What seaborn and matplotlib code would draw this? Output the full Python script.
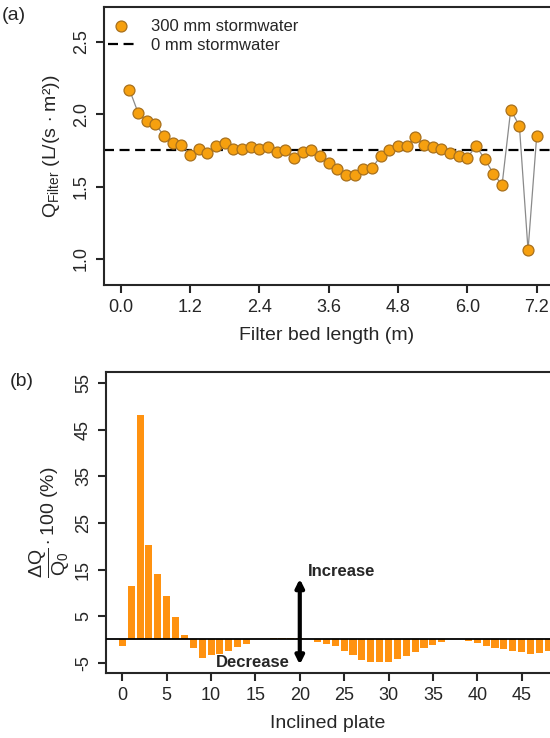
import matplotlib
matplotlib.use("Agg")
import matplotlib.pyplot as plt
import seaborn as sns
import pandas as pd

# ---------------- data ----------------
bed_length = [0.15, 0.30, 0.45, 0.60, 0.75, 0.90, 1.05, 1.20, 1.35, 1.50, 1.65, 1.80,
              1.95, 2.10, 2.25, 2.40, 2.55, 2.70, 2.85, 3.00, 3.15, 3.30, 3.45, 3.60,
              3.75, 3.90, 4.05, 4.20, 4.35, 4.50, 4.65, 4.80, 4.95, 5.10, 5.25, 5.40,
              5.55, 5.70, 5.85, 6.00, 6.15, 6.30, 6.45, 6.60, 6.75, 6.90, 7.05, 7.20]
q_300mm = [2.17, 2.01, 1.95, 1.93, 1.85, 1.80, 1.79, 1.72, 1.76, 1.73, 1.78, 1.80,
           1.76, 1.76, 1.77, 1.76, 1.77, 1.74, 1.75, 1.70, 1.74, 1.75, 1.71, 1.66,
           1.62, 1.58, 1.58, 1.62, 1.63, 1.71, 1.75, 1.78, 1.78, 1.84, 1.79, 1.77,
           1.76, 1.73, 1.71, 1.70, 1.78, 1.69, 1.59, 1.51, 2.03, 1.92, 1.06, 1.85]
q_0mm = 1.75

plates = list(range(0, 49))
dq_percent = [-1.5, 11.4, 48.1, 20.2, 14.1, 9.3, 4.9, 0.9, -1.9, -3.9,
              -3.4, -3.1, -2.5, -1.6, -0.9, 0.0, 0.0, 0.4, 0.4, 0.4,
              0.3, 0.0, -0.6, -1.0, -1.5, -2.4, -3.4, -4.4, -4.9, -4.9,
              -4.8, -4.1, -3.5, -2.8, -1.9, -1.1, -0.5, 0.0, 0.0, -0.4,
              -0.8, -1.4, -1.9, -2.1, -2.4, -2.8, -3.1, -3.0, -2.4]

xticks_a = [0.0, 1.2, 2.4, 3.6, 4.8, 6.0, 7.2]
yticks_a = [1.0, 1.5, 2.0, 2.5]
xticks_b = [0, 5, 10, 15, 20, 25, 30, 35, 40, 45]
yticks_b = [-5, 5, 15, 25, 35, 45, 55]

# ---------------- style ----------------
sns.set_style("ticks")
plt.rcParams["font.family"] = ["Liberation Sans", "DejaVu Sans"]
plt.rcParams["mathtext.fontset"] = "custom"
plt.rcParams["mathtext.rm"] = "Liberation Sans"
plt.rcParams["mathtext.it"] = "Liberation Sans:italic"
plt.rcParams["mathtext.bf"] = "Liberation Sans:bold"
plt.rcParams["axes.linewidth"] = 1.5

fig = plt.figure(figsize=(5.5, 7.38), dpi=100)
W, H = 550, 738

def pos(l, t, r, b):
    return [l / W, 1 - b / H, (r - l) / W, (b - t) / H]

# ---------------- panel (a) ----------------
ax1 = fig.add_axes(pos(104, 7, 550, 285))
df_a = pd.DataFrame({"x": bed_length, "q": q_300mm})
sns.lineplot(data=df_a, x="x", y="q", ax=ax1, color="#8a8a8a", lw=0.9, zorder=2)
sns.scatterplot(data=df_a, x="x", y="q", ax=ax1, color="#F6A00F", edgecolor="#A8701C",
                linewidth=0.9, s=62, zorder=3, label="300 mm stormwater")
ax1.axhline(q_0mm, color="black", lw=1.6, ls=(0, (4.5, 2.5)), zorder=1, label="0 mm stormwater")
ax1.set_xlim(-0.29, 7.43)
ax1.set_ylim(0.82, 2.74)
ax1.set_xticks(xticks_a)
ax1.set_xticklabels([f"{v:.1f}" for v in xticks_a])
ax1.set_yticks(yticks_a)
ax1.set_yticklabels([f"{v:.1f}" for v in yticks_a], rotation=90, va="center")
ax1.spines["right"].set_visible(False)
ax1.tick_params(axis="both", labelsize=13, length=6, width=1.5, pad=4)
ax1.set_xlabel("Filter bed length (m)", fontsize=14, labelpad=8)
ax1.set_ylabel(r"Q$_{\mathrm{Filter}}$ (L/(s $\cdot$ m²))", fontsize=14, labelpad=8)
leg = ax1.legend(loc="upper left", bbox_to_anchor=(-0.017, 1.0), frameon=False, fontsize=12,
                 handlelength=1.6, handletextpad=1.0, labelspacing=0.25, borderaxespad=0.3)

# ---------------- panel (b) ----------------
ax2 = fig.add_axes(pos(106, 372, 550, 673))
df_b = pd.DataFrame({"plate": plates, "dq": dq_percent})
sns.barplot(data=df_b, x="plate", y="dq", ax=ax2, native_scale=True, color="#FF9210",
            saturation=1, width=0.8, linewidth=0, zorder=2)
ax2.axhline(0, color="black", lw=1.3, zorder=3)
ax2.set_xlim(-1.84, 48.2)
ax2.set_ylim(-7.2, 57.4)
ax2.set_xticks(xticks_b)
ax2.set_xticklabels([str(v) for v in xticks_b])
ax2.set_yticks(yticks_b)
ax2.set_yticklabels([str(v) for v in yticks_b], rotation=90, va="center")
ax2.spines["right"].set_visible(False)
ax2.tick_params(axis="both", labelsize=13, length=6, width=1.5, pad=4)
ax2.set_xlabel("Inclined plate", fontsize=14, labelpad=8)
ax2.set_ylabel(r"$\dfrac{\Delta \mathrm{Q}}{\mathrm{Q}_0}\cdot$100 (%)", fontsize=14, labelpad=2)
ax2.annotate("", xy=(20, 13.0), xytext=(20, -5.4),
             arrowprops=dict(arrowstyle="<|-|>", color="black", lw=3, mutation_scale=12,
                             shrinkA=0, shrinkB=0), zorder=4)
ax2.text(20.9, 14.6, "Increase", fontsize=12, fontweight="bold", ha="left", va="center")
ax2.text(18.9, -5.0, "Decrease", fontsize=12, fontweight="bold", ha="right", va="center")

fig.text(2 / W, 1 - 16 / H, "(a)", fontsize=14, ha="left", va="center")
fig.text(10 / W, 1 - 381 / H, "(b)", fontsize=14, ha="left", va="center")

fig.savefig("out.png", dpi=100, facecolor="white")
